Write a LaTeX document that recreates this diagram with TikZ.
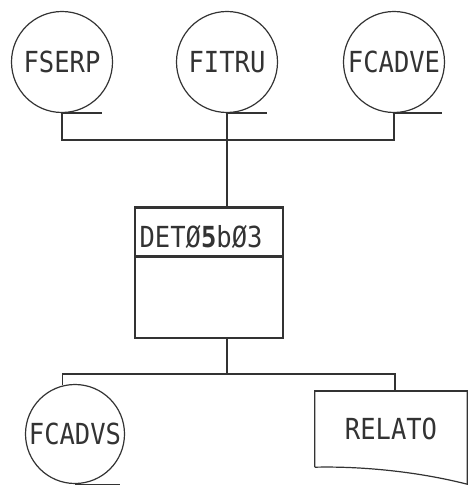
\documentclass[tikz,border=0pt]{standalone}
\usepackage{fontspec}
\usepackage{tikz}
\usetikzlibrary{
  positioning,
  calc
}
\newfontfamily\plotfont[FakeStretch=0.88]{DejaVu Sans Mono}
\definecolor{InkGrey}{HTML}{333333}
\tikzset{
  flowline/.style={draw=InkGrey,line width=1.2pt},
  filecirc/.style={circle,draw=InkGrey,line width=1.2pt,minimum size=101pt,inner sep=0pt},
  procbox/.style={rectangle,draw=InkGrey,line width=1.2pt,minimum width=148pt,minimum height=130pt,inner sep=0pt},
  heavyline/.style={draw=InkGrey,line width=2.2pt}
}

\begin{document}
\begin{tikzpicture}[x=1pt,y=-1pt,font=\plotfont\fontsize{29}{32}\selectfont,text=InkGrey]
  \useasboundingbox (0,0) rectangle (470,486);

  % input files
  \node[filecirc] (fserp) at (62,62) {FSERP};
  \node[filecirc] (fitru) at (227,62) {FITRU};
  \node[filecirc] (fcadve) at (394,62) {FCADVE};
  \draw[flowline] (fserp.south) -- ++(40,0);
  \draw[flowline] (fitru.south) -- ++(40,0);
  \draw[flowline] (fcadve.south) -- ++(48,0);

  % program
  \node[procbox] (det) at (209,273) {};
  \draw[heavyline] (det.north west) -- (det.north east);
  \draw[heavyline] ([yshift=-49pt]det.north west) -- ([yshift=-49pt]det.north east);
  \node[anchor=base west,inner sep=0pt] (detlbl) at ([xshift=5pt,yshift=-40pt]det.north west)
    {DET\O{}\textbf{5}b\O{}3};

  % outputs
  \node[filecirc,minimum size=99pt] (fcadvs) at (75,434) {FCADVS};
  \draw[flowline] (fcadvs.south) -- ++(45,0);
  \node[rectangle,minimum width=152pt,minimum height=76pt,inner sep=0pt] (relato) at (391,429) {RELATO};
  \draw[flowline] (relato.south west) -- (relato.north west) -- (relato.north east)
    -- ([yshift=-17pt]relato.south east)
    .. controls +(-55,-14) and +(40,-1) .. (relato.south west);
  \draw[heavyline] (relato.north west) -- (relato.north east);

  % connectors
  \coordinate (topbus) at (227,140);
  \coordinate (botbus) at (227,374);
  \draw[flowline] (fserp.south) |- (topbus) -| (fcadve.south);
  \draw[flowline] (fitru.south) -- (fitru.south |- det.north);
  \draw[flowline] (fitru.south |- det.south) -- (botbus);
  \draw[flowline] (fcadvs.104) |- (botbus) -| ([xshift=4pt]relato.north);
\end{tikzpicture}
\end{document}
